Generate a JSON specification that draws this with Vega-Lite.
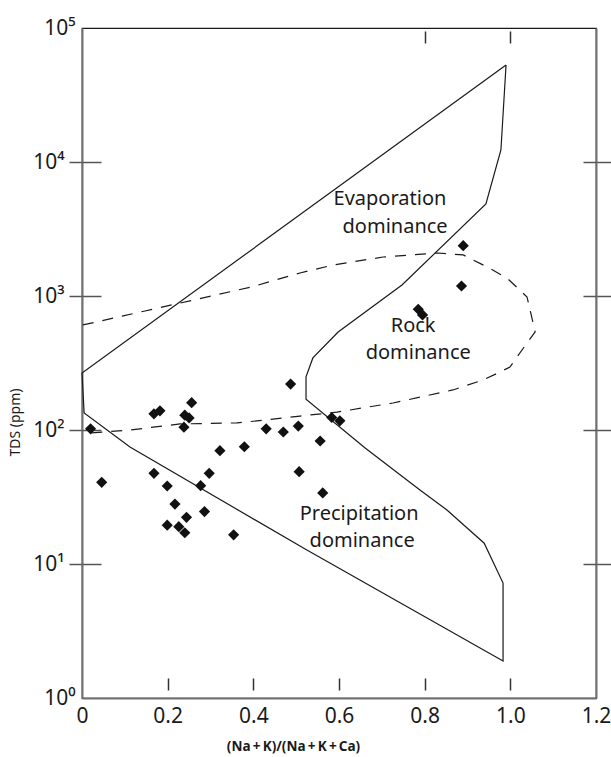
{
  "$schema": "https://vega.github.io/schema/vega-lite/v6.json",
  "width": 514,
  "height": 670,
  "autosize": {"type": "none"},
  "padding": {"left": 82, "top": 28, "right": 15, "bottom": 59},
  "background": "white",
  "config": {
    "view": {"stroke": "#1a1a1a", "strokeWidth": 1.2},
    "font": "Noto Sans",
    "axis": {"grid": false, "labelFont": "Noto Sans", "titleFont": "Noto Sans", "labelColor": "#1a1a1a", "titleColor": "#1a1a1a", "tickColor": "#555555", "tickWidth": 1.5, "domainColor": "#707070", "domainWidth": 2}
  },
  "datasets": {
    "solid": [
      {"i": 1, "r": 0.990, "tds": 53000},
      {"i": 2, "r": 0.978, "tds": 12300},
      {"i": 3, "r": 0.943, "tds": 4860},
      {"i": 4, "r": 0.747, "tds": 1208},
      {"i": 5, "r": 0.598, "tds": 539},
      {"i": 6, "r": 0.539, "tds": 345},
      {"i": 7, "r": 0.523, "tds": 249},
      {"i": 8, "r": 0.523, "tds": 170},
      {"i": 9, "r": 0.661, "tds": 73.4},
      {"i": 10, "r": 0.789, "tds": 35.7},
      {"i": 11, "r": 0.852, "tds": 25.3},
      {"i": 12, "r": 0.939, "tds": 14.3},
      {"i": 13, "r": 0.983, "tds": 7.2},
      {"i": 14, "r": 0.983, "tds": 1.89},
      {"i": 15, "r": 0.525, "tds": 12.7},
      {"i": 16, "r": 0.112, "tds": 74.7},
      {"i": 17, "r": 0.005, "tds": 134},
      {"i": 18, "r": 0.0, "tds": 266},
      {"i": 19, "r": 0.990, "tds": 53000}
    ],
    "dashed": [
      {"i": 1, "r": 0.002, "tds": 608},
      {"i": 2, "r": 0.147, "tds": 773},
      {"i": 3, "r": 0.271, "tds": 950},
      {"i": 4, "r": 0.395, "tds": 1167},
      {"i": 5, "r": 0.509, "tds": 1485},
      {"i": 6, "r": 0.586, "tds": 1703},
      {"i": 7, "r": 0.703, "tds": 1954},
      {"i": 8, "r": 0.831, "tds": 2094},
      {"i": 9, "r": 0.890, "tds": 2025},
      {"i": 10, "r": 0.946, "tds": 1646},
      {"i": 11, "r": 0.992, "tds": 1363},
      {"i": 12, "r": 1.039, "tds": 984},
      {"i": 13, "r": 1.058, "tds": 539},
      {"i": 14, "r": 1.039, "tds": 446},
      {"i": 15, "r": 0.999, "tds": 295},
      {"i": 16, "r": 0.976, "tds": 271},
      {"i": 17, "r": 0.936, "tds": 236},
      {"i": 18, "r": 0.866, "tds": 199},
      {"i": 19, "r": 0.726, "tds": 159},
      {"i": 20, "r": 0.595, "tds": 136},
      {"i": 21, "r": 0.509, "tds": 127},
      {"i": 22, "r": 0.432, "tds": 119},
      {"i": 23, "r": 0.362, "tds": 113},
      {"i": 24, "r": 0.229, "tds": 111},
      {"i": 25, "r": 0.112, "tds": 100},
      {"i": 26, "r": 0.019, "tds": 95}
    ],
    "samples": [
      {"r": 0.020, "tds": 102},
      {"r": 0.046, "tds": 40.7},
      {"r": 0.168, "tds": 132},
      {"r": 0.182, "tds": 139},
      {"r": 0.256, "tds": 160},
      {"r": 0.240, "tds": 129},
      {"r": 0.250, "tds": 123},
      {"r": 0.238, "tds": 105},
      {"r": 0.487, "tds": 220},
      {"r": 0.430, "tds": 102},
      {"r": 0.470, "tds": 96.6},
      {"r": 0.505, "tds": 107},
      {"r": 0.556, "tds": 82.8},
      {"r": 0.322, "tds": 70.1},
      {"r": 0.379, "tds": 75},
      {"r": 0.168, "tds": 47.5},
      {"r": 0.297, "tds": 47.5},
      {"r": 0.199, "tds": 38.2},
      {"r": 0.277, "tds": 38.4},
      {"r": 0.507, "tds": 48.9},
      {"r": 0.562, "tds": 33.9},
      {"r": 0.217, "tds": 28},
      {"r": 0.286, "tds": 24.6},
      {"r": 0.244, "tds": 22.3},
      {"r": 0.199, "tds": 19.5},
      {"r": 0.226, "tds": 19},
      {"r": 0.240, "tds": 17.1},
      {"r": 0.354, "tds": 16.5},
      {"r": 0.890, "tds": 2373},
      {"r": 0.886, "tds": 1188},
      {"r": 0.785, "tds": 796},
      {"r": 0.795, "tds": 722},
      {"r": 0.583, "tds": 124},
      {"r": 0.602, "tds": 117}
    ],
    "labelsA": [
      {"text": "Evaporation", "r": 0.719, "tds": 4777},
      {"text": "dominance", "r": 0.731, "tds": 2951},
      {"text": "Rock", "r": 0.773, "tds": 542},
      {"text": "dominance", "r": 0.785, "tds": 337}
    ],
    "labelsB": [
      {"text": "Precipitation", "r": 0.647, "tds": 21.3},
      {"text": "dominance", "r": 0.654, "tds": 13.4}
    ]
  },
  "layer": [
    {
      "data": {"name": "solid"},
      "mark": {"type": "line", "color": "#1a1a1a", "strokeWidth": 1.2},
      "encoding": {
        "x": {"field": "r", "type": "quantitative", "scale": {"domain": [0, 1.2], "nice": false, "zero": false},
          "axis": {"orient": "bottom", "values": [0, 0.2, 0.4, 0.6, 0.8, 1.0, 1.2], "ticks": false, "labelExpr": "datum.value == 0 ? '0' : format(datum.value, '.1f')", "labelFontSize": 21, "labelPadding": 24, "labelBaseline": "alphabetic", "labelFlush": false, "labelOverlap": false, "title": "(Na\u2009+\u2009K)/(Na\u2009+\u2009K\u2009+\u2009Ca)", "titleFontSize": 13.5, "titleFontWeight": "bold", "titleX": 211, "titleY": 52, "titleBaseline": "alphabetic", "titleAlign": "center"}},
        "y": {"field": "tds", "type": "quantitative", "scale": {"type": "log", "domain": [1, 100000], "nice": false},
          "axis": {"orient": "left", "values": [10, 100, 1000, 10000], "tickSize": 13, "labelPadding": 5, "labelFontSize": 21, "labelBaseline": "middle", "labelFlush": false, "labelOverlap": false, "labelExpr": "'10' + ['⁰','¹','²','³','⁴','⁵'][round(log(datum.value)/LN10)]", "title": "TDS (ppm)", "titleFontSize": 14, "titleFontWeight": "normal", "titleX": -67, "titleY": 394, "titleAlign": "center", "titleBaseline": "middle", "titleAngle": -90}},
        "order": {"field": "i", "type": "quantitative"}
      }
    },
    {
      "data": {"name": "dashed"},
      "mark": {"type": "line", "color": "#1a1a1a", "strokeWidth": 1.2, "strokeDash": [11, 9]},
      "encoding": {
        "x": {"field": "r", "type": "quantitative", "scale": {"domain": [0, 1.2], "nice": false, "zero": false},
          "axis": {"orient": "bottom", "values": [0.2, 0.4, 0.6, 0.8, 1.0], "tickSize": -12, "offset": -8, "labels": false, "domain": false, "title": null, "tickColor": "#333333"}},
        "y": {"field": "tds", "type": "quantitative", "scale": {"type": "log", "domain": [1, 100000], "nice": false},
          "axis": {"orient": "left", "values": [10, 100, 1000, 10000], "tickSize": -19, "labels": false, "domain": false, "title": null}},
        "order": {"field": "i", "type": "quantitative"}
      }
    },
    {
      "data": {"name": "samples"},
      "mark": {"type": "point", "shape": "diamond", "filled": true, "color": "#111111", "opacity": 1, "size": 125},
      "encoding": {
        "x": {"field": "r", "type": "quantitative", "scale": {"domain": [0, 1.2], "nice": false, "zero": false},
          "axis": {"orient": "top", "values": [0.8, 1.0], "tickSize": -12, "offset": -3, "labels": false, "domain": false, "title": null, "tickColor": "#333333"}},
        "y": {"field": "tds", "type": "quantitative", "scale": {"type": "log", "domain": [1, 100000], "nice": false},
          "axis": {"orient": "right", "values": [10, 100, 1000, 10000], "tickSize": 15, "labels": false, "domain": true, "title": null}}
      }
    },
    {
      "data": {"name": "labelsA"},
      "mark": {"type": "text", "font": "Noto Sans", "fontSize": 20, "align": "center", "baseline": "alphabetic", "color": "#1a1a1a"},
      "encoding": {
        "x": {"field": "r", "type": "quantitative", "scale": {"domain": [0, 1.2], "nice": false, "zero": false}, "axis": null},
        "y": {"field": "tds", "type": "quantitative", "scale": {"type": "log", "domain": [1, 100000], "nice": false},
          "axis": {"orient": "right", "values": [10, 100, 1000, 10000], "tickSize": -13, "labels": false, "domain": false, "title": null}},
        "text": {"field": "text"}
      }
    },
    {
      "data": {"name": "labelsB"},
      "mark": {"type": "text", "font": "Noto Sans", "fontSize": 20, "align": "center", "baseline": "alphabetic", "color": "#1a1a1a"},
      "encoding": {
        "x": {"field": "r", "type": "quantitative", "scale": {"domain": [0, 1.2], "nice": false, "zero": false}, "axis": null},
        "y": {"field": "tds", "type": "quantitative", "scale": {"type": "log", "domain": [1, 100000], "nice": false},
          "axis": {"orient": "left", "values": [1, 100000], "ticks": false, "labelPadding": 7, "labelFontSize": 21, "labelBaseline": "middle", "labelFlush": false, "labelOverlap": false, "labelExpr": "'10' + ['⁰','¹','²','³','⁴','⁵'][round(log(datum.value)/LN10)]", "domain": false, "title": null}},
        "text": {"field": "text"}
      }
    }
  ],
  "resolve": {"axis": {"x": "independent", "y": "independent"}}
}
